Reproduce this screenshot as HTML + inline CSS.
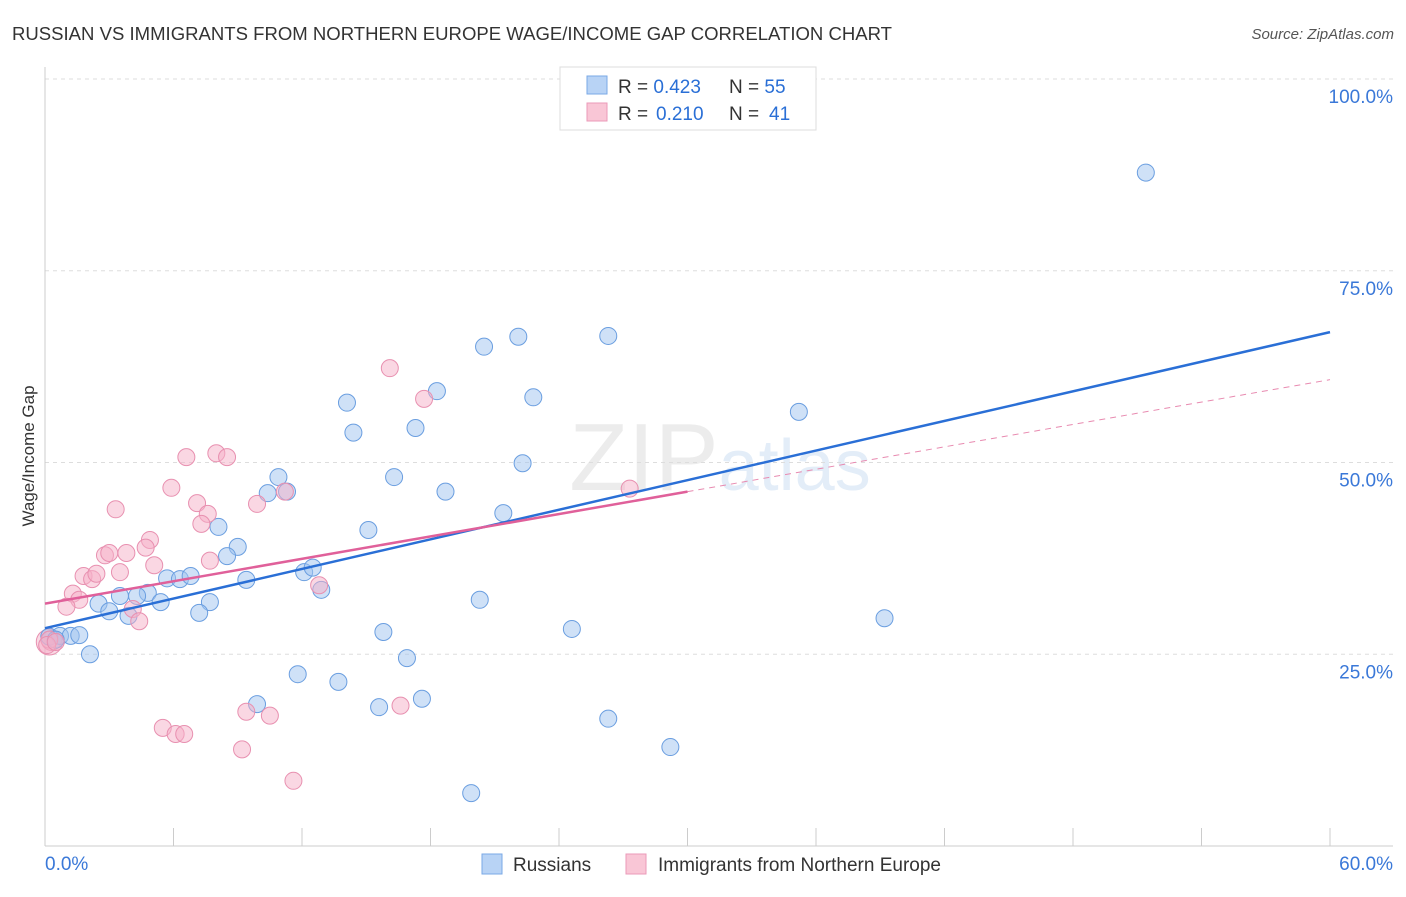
<!DOCTYPE html>
<html><head><meta charset="utf-8"><style>
body{margin:0;background:#fff;font-family:"Liberation Sans",sans-serif;}
svg text{font-family:"Liberation Sans",sans-serif;}
</style></head><body>
<svg id="chart" width="1406" height="892" xmlns="http://www.w3.org/2000/svg">
<text x="12" y="40" font-size="18" fill="#333" textLength="880" lengthAdjust="spacingAndGlyphs">RUSSIAN VS IMMIGRANTS FROM NORTHERN EUROPE WAGE/INCOME GAP CORRELATION CHART</text>
<text x="1394" y="39" font-size="15" fill="#555" text-anchor="end" font-style="italic">Source: ZipAtlas.com</text>
<text x="720" y="490" font-size="96" fill="#ececec" text-anchor="middle" font-family="Liberation Serif">ZIP<tspan fill="#e3edf8" font-family="Liberation Sans" font-size="72">atlas</tspan></text>
<g id="grid"></g>
<g id="axes"></g>
<g id="pts"></g>
<g id="lines"></g>
<text transform="translate(34,456) rotate(-90)" font-size="17" fill="#333" text-anchor="middle">Wage/Income Gap</text>
<g xml:space="preserve">
<rect x="560" y="67" width="256" height="63" fill="#fff" stroke="#ddd"/>
<rect x="587" y="76" width="20" height="18" fill="#b8d3f5" stroke="#7aa8e6"/>
<rect x="587" y="103" width="20" height="18" fill="#f9c6d6" stroke="#eb9ab8"/>
<text x="618" y="93" font-size="19" fill="#333">R = <tspan fill="#2a6fd6">0.423</tspan></text>
<text x="729" y="93" font-size="19" fill="#333">N = <tspan fill="#2a6fd6">55</tspan></text>
<text x="618" y="120" font-size="19" fill="#333">R = </text>
<text x="656" y="120" font-size="19" fill="#2a6fd6">0.210</text>
<text x="729" y="120" font-size="19" fill="#333">N = </text>
<text x="769" y="120" font-size="19" fill="#2a6fd6">41</text>
</g>
<g>
<rect x="482" y="854" width="20" height="20" fill="#b8d3f5" stroke="#7aa8e6"/>
<text x="513" y="871" font-size="19" fill="#333">Russians</text>
<rect x="626" y="854" width="20" height="20" fill="#f9c6d6" stroke="#eb9ab8"/>
<text x="658" y="871" font-size="19" fill="#333">Immigrants from Northern Europe</text>
</g>
</svg>
<script>
const blueX=[51.4,22.1,26.3,20.5,18.3,22.8,14.1,35.2,14.4,17.3,22.3,10.9,16.3,10.4,11.3,18.7,21.4,8.1,15.1,9.0,8.5,5.7,6.3,6.8,9.4,12.1,12.5,12.9,4.8,3.5,4.3,5.4,7.7,2.5,3.0,3.9,7.2,20.3,39.2,15.8,24.6,0.2,0.7,1.2,1.6,0.5,2.1,16.9,11.8,13.7,9.9,15.6,17.6,26.3,29.2,19.9];
const blueY=[87.8,66.4,66.5,65.1,59.3,58.5,57.8,56.6,53.9,54.5,49.9,48.1,48.1,46.0,46.2,46.2,43.4,41.6,41.2,39.0,37.8,34.9,34.8,35.2,34.7,35.7,36.3,33.4,33.0,32.6,32.6,31.8,31.8,31.6,30.6,30.0,30.4,32.1,29.7,27.9,28.3,27.3,27.4,27.4,27.5,26.9,25.0,24.5,22.4,21.4,18.5,18.1,19.2,16.6,12.9,6.9];
const pinkX=[16.1,17.7,6.6,8.0,8.5,5.9,7.1,9.9,11.2,7.6,7.3,3.3,4.9,4.7,2.8,3.0,3.8,5.1,7.7,3.5,1.8,2.2,2.4,1.3,1.6,1.0,4.1,4.4,12.8,27.3,0.2,0.1,0.5,5.5,6.1,6.5,9.4,10.5,9.2,16.6,11.6];
const pinkY=[62.3,58.3,50.7,51.2,50.7,46.7,44.7,44.6,46.2,43.3,42.0,43.9,39.9,38.9,37.9,38.2,38.2,36.6,37.2,35.7,35.2,34.8,35.5,32.9,32.1,31.2,30.9,29.3,34.0,46.6,26.9,26.2,26.6,15.4,14.6,14.6,17.5,17.0,12.6,18.3,8.5];
const xTicks=[0,60];
const yTicks=[25,50,75,100];
const blueTrend=[28.4,67.0];
const pinkTrend=[31.6,60.8];
const pinkSolidEnd=30.0;
const NS="http://www.w3.org/2000/svg";
const X=v=>45+v/60*1285, Y=v=>846-v/100*767;
function mk(tag,attrs,parent){const e=document.createElementNS(NS,tag);for(const k in attrs)e.setAttribute(k,attrs[k]);parent.appendChild(e);return e;}
const grid=document.getElementById('grid'),axes=document.getElementById('axes'),pts=document.getElementById('pts'),lines=document.getElementById('lines');
yTicks.forEach(t=>{const l=mk('line',{x1:45,x2:1393,y1:Y(t),y2:Y(t),stroke:'#ddd','stroke-dasharray':'4,4'},grid);


const tx=mk('text',{x:1393,y:Y(t)+24,'font-size':19,fill:'#3a78d8','text-anchor':'end'},grid);tx.textContent=t.toFixed(1)+'%';

});
mk('line',{x1:45,x2:45,y1:67,y2:846,stroke:'#ccc'},axes);
mk('line',{x1:45,x2:1393,y1:846,y2:846,stroke:'#ccc'},axes);
for(let i=0;i<=10;i++){const l=mk('line',{x1:X(i*6),x2:X(i*6),y1:828,y2:846,stroke:'#ccc'},axes);

}
xTicks.forEach((t,i)=>{const tx=mk('text',{x:i==0?X(t):1393,y:870,'font-size':19,fill:'#3a78d8','text-anchor':i==0?'start':'end'},axes);tx.textContent=t.toFixed(1)+'%';

});
[[0.2,26.6,13],[0.3,26.8,10]].forEach(p=>{const c=mk('circle',{cx:X(p[0]),cy:Y(p[1]),r:p[2],fill:'rgba(242,170,196,0.45)',stroke:'#e890b0','stroke-width':1},pts);

});
blueX.forEach((v,i)=>{const c=mk('circle',{cx:X(v),cy:Y(blueY[i]),r:8.5,fill:'rgba(160,196,240,0.5)',stroke:'#6a9ee0','stroke-width':1},pts);

});
pinkX.forEach((v,i)=>{const c=mk('circle',{cx:X(v),cy:Y(pinkY[i]),r:8.5,fill:'rgba(245,176,200,0.5)',stroke:'#e890b0','stroke-width':1},pts);

});
const bl=mk('line',{x1:X(0),y1:Y(blueTrend[0]),x2:X(60),y2:Y(blueTrend[1]),stroke:'#2a6fd6','stroke-width':2.5},lines);


const py=x=>pinkTrend[0]+(pinkTrend[1]-pinkTrend[0])*x/60;
const pl=mk('line',{x1:X(0),y1:Y(py(0)),x2:X(pinkSolidEnd),y2:Y(py(pinkSolidEnd)),stroke:'#e0609a','stroke-width':2.5},lines);


const pd=mk('line',{x1:X(pinkSolidEnd),y1:Y(py(pinkSolidEnd)),x2:X(60),y2:Y(py(60)),stroke:'#e88ab0','stroke-width':1,'stroke-dasharray':'6,5'},lines);


</script>
</body></html>
